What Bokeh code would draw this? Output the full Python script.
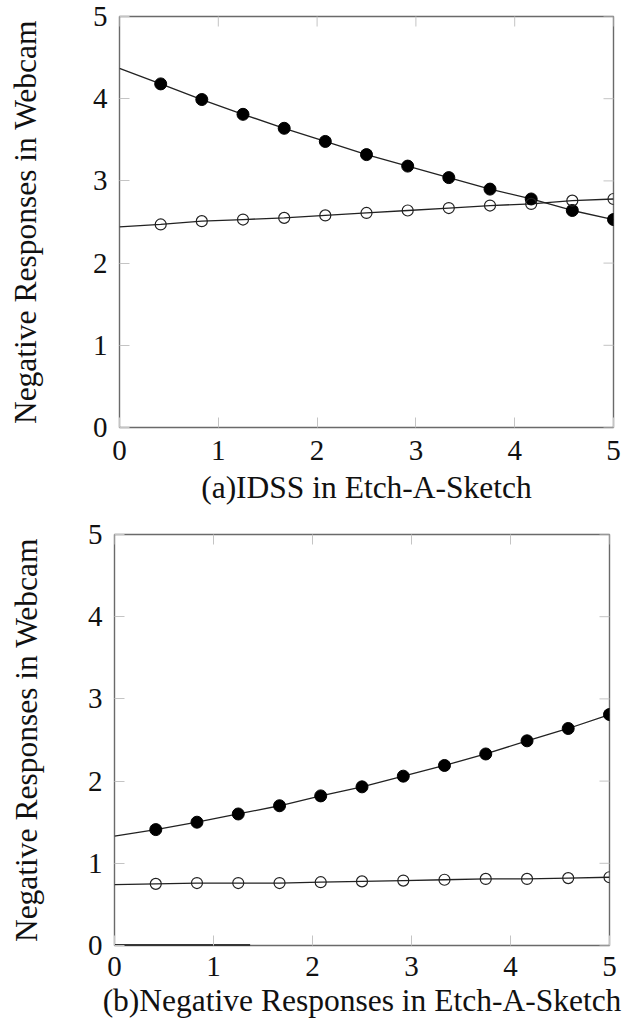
import math
from bokeh.plotting import figure
from bokeh.layouts import column, row
from bokeh.models import Range1d, FixedTicker
from bokeh.embed import file_html
from bokeh.resources import INLINE

# ---------------- data ----------------
x_vals = [0.0, 0.417, 0.833, 1.25, 1.667, 2.083, 2.5, 2.917, 3.333, 3.75, 4.167, 4.583, 5.0]

# (a) IDSS in Etch-A-Sketch
a_filled = [4.37, 4.18, 3.99, 3.81, 3.64, 3.48, 3.32, 3.18, 3.04, 2.90, 2.78, 2.64, 2.53]
a_open = [2.44, 2.47, 2.51, 2.53, 2.55, 2.58, 2.61, 2.64, 2.67, 2.70, 2.72, 2.76, 2.78]

# (b) Negative Responses in Etch-A-Sketch
b_filled = [1.33, 1.41, 1.50, 1.60, 1.70, 1.82, 1.93, 2.06, 2.19, 2.33, 2.49, 2.64, 2.81]
b_open = [0.74, 0.75, 0.76, 0.76, 0.76, 0.77, 0.78, 0.79, 0.80, 0.81, 0.81, 0.82, 0.83]

b_baseline_x = [0.0, 1.37]
b_baseline_y = [0.0, 0.0]

tick_vals = [0, 1, 2, 3, 4, 5]
axis_max = 5
y_label = "Negative Responses in Webcam"
a_xlabel = "(a)IDSS in Etch-A-Sketch"
b_xlabel = "(b)Negative Responses in Etch-A-Sketch"

FONT = "Liberation Serif"
TXT = "#111111"
FRAME = "#6a6a6a"
TICK = "#c4c4c4"


def make_plot(filled, opened, xlabel, left, top, bottom, right, fw, fh,
              ylab_standoff, xtick_standoff, xlab_standoff):
    p = figure(frame_width=fw, frame_height=fh, output_backend="svg", toolbar_location=None,
               x_range=Range1d(0, axis_max), y_range=Range1d(0, axis_max),
               min_border_left=left, min_border_top=top, min_border_bottom=bottom,
               min_border_right=right, x_axis_label=xlabel, y_axis_label=y_label)
    p.grid.visible = False
    p.background_fill_color = "white"
    p.border_fill_color = "white"
    p.outline_line_color = FRAME
    p.outline_line_width = 1.4

    for ax in p.xaxis + p.yaxis:
        ax.ticker = FixedTicker(ticks=tick_vals)
        ax.axis_line_color = None
        ax.major_tick_in = 10
        ax.major_tick_out = 0
        ax.major_tick_line_color = TICK
        ax.major_tick_line_width = 1
        ax.minor_tick_line_color = None
        ax.major_label_text_font = FONT
        ax.major_label_text_font_size = "29px"
        ax.major_label_text_color = TXT
        ax.axis_label_text_font = FONT
        ax.axis_label_text_font_size = "31.5px"
        ax.axis_label_text_font_style = "normal"
        ax.axis_label_text_color = TXT
    p.xaxis.major_label_standoff = xtick_standoff
    p.yaxis.major_label_standoff = 12
    p.xaxis.axis_label_standoff = xlab_standoff
    p.yaxis.axis_label_standoff = ylab_standoff
    p.yaxis.major_label_orientation = "horizontal"

    # mirrored inward ticks on top and right edges (half of each dash is clipped by the frame)
    p.scatter(tick_vals, [axis_max] * len(tick_vals), marker="dash", size=20,
              angle=math.pi / 2, line_color=TICK, line_width=1)
    p.scatter([axis_max] * len(tick_vals), tick_vals, marker="dash", size=20,
              line_color=TICK, line_width=1)

    p.line(x_vals, filled, line_color="#222222", line_width=1.3)
    p.line(x_vals, opened, line_color="#222222", line_width=1.3)
    p.scatter(x_vals[1:], filled[1:], marker="circle", size=12,
              fill_color="black", line_color="black")
    p.scatter(x_vals[1:], opened[1:], marker="circle", size=11,
              fill_color=None, line_color="#222222", line_width=1.2)
    return p


p1 = make_plot(a_filled, a_open, a_xlabel, left=119, top=16, bottom=88, right=12,
               fw=494, fh=411, ylab_standoff=47, xtick_standoff=13, xlab_standoff=7)
p2 = make_plot(b_filled, b_open, b_xlabel, left=114, top=19, bottom=60, right=20,
               fw=495, fh=411, ylab_standoff=41, xtick_standoff=11, xlab_standoff=4)
p2.line(b_baseline_x, b_baseline_y, line_color="black", line_width=2.5)

layout = column(row(p1), row(p2), spacing=0)
open("out.html", "w").write(file_html(layout, INLINE))
